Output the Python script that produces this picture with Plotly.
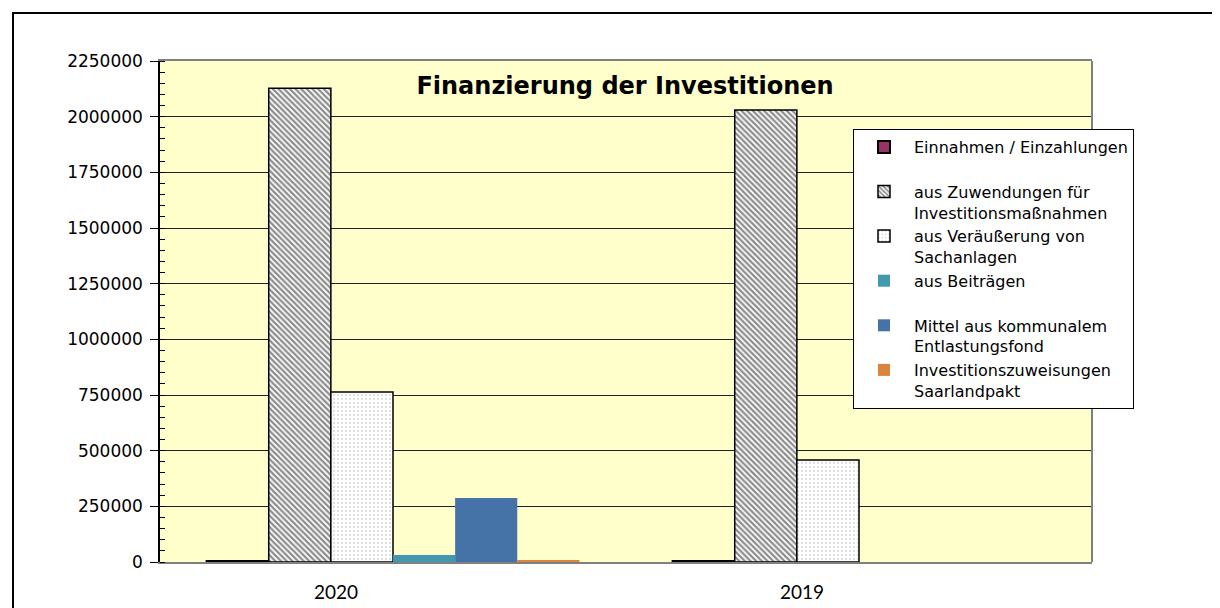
import plotly.graph_objects as go

categories = ["2020", "2019"]
series_names = [
    "Einnahmen / Einzahlungen<br> ",
    "aus Zuwendungen für<br>Investitionsmaßnahmen",
    "aus Veräußerung von<br>Sachanlagen",
    "aus Beiträgen<br> ",
    "Mittel aus kommunalem<br>Entlastungsfond",
    "Investitionszuweisungen<br>Saarlandpakt",
]
einnahmen = [4000, 4000]
zuwendungen = [2128000, 2030000]
veraeusserung = [763000, 458000]
beitraege = [31000, 0]
mittel = [287000, 0]
saarlandpakt = [8000, 0]
y_ticks = [0, 250000, 500000, 750000, 1000000, 1250000, 1500000, 1750000, 2000000, 2250000]

values = [einnahmen, zuwendungen, veraeusserung, beitraege, mittel, saarlandpakt]

styles = [
    dict(color="#993366", line=dict(color="black", width=2)),
    dict(color="white", line=dict(color="black", width=1.5),
         pattern=dict(shape="\\", fgcolor="#1a1a1a", bgcolor="white", size=4, solidity=0.55)),
    dict(color="white", line=dict(color="black", width=1.5),
         pattern=dict(shape=".", fgcolor="#bbbbbb", bgcolor="white", size=4, solidity=0.25)),
    dict(color="#4198AF", line=dict(width=0)),
    dict(color="#4572A7", line=dict(width=0)),
    dict(color="#DB843D", line=dict(width=0)),
]

fig = go.Figure()
for i, (name, vals, st) in enumerate(zip(series_names, values, styles)):
    fig.add_trace(go.Bar(x=categories, y=vals, name=name, marker=st,
                         legendgroup=f"g{i}"))

OFF = 8  # page body margin
W, H = 1220 - OFF, 608 - OFF
L, R, T, B = 160 - OFF, 1092 - OFF, 61 - OFF, 562 - OFF

def px_x(p):  # page pixel -> paper x
    return (p - OFF - L) / (R - L)

def px_y(p):  # page pixel -> paper y
    return (B - (p - OFF)) / (B - T)

fig.update_layout(
    width=W, height=H,
    margin=dict(l=L, r=W - R, t=T, b=H - B),
    paper_bgcolor="white",
    plot_bgcolor="#FFFFCC",
    barmode="group",
    bargap=0.2,
    bargroupgap=0,
    font=dict(family="DejaVu Sans, sans-serif", color="black"),
    title=dict(text="<b>Finanzierung der Investitionen</b>",
               font=dict(family="DejaVu Sans, sans-serif", size=24, color="black"),
               x=px_x(625), xref="paper", xanchor="center",
               y=px_y(86), yref="paper", yanchor="middle"),
    showlegend=True,
    legend=dict(x=px_x(853), y=px_y(129), xanchor="left", yanchor="top",
                bgcolor="white", bordercolor="black", borderwidth=1,
                font=dict(family="DejaVu Sans, sans-serif", size=16),
                valign="top", tracegroupgap=4, traceorder="normal",
                itemwidth=50),
)

fig.update_xaxes(type="category", showgrid=False, showline=True, linecolor="#808080",
                 linewidth=2, mirror=True, ticks="", ticklabelshift=-57,
                 ticklabelstandoff=12, automargin=False,
                 tickfont=dict(family="Lato, sans-serif", size=19))
fig.update_yaxes(range=[0, 2250000], tickvals=y_ticks,
                 ticktext=[str(v) for v in y_ticks],
                 showgrid=True, gridcolor="#222222", gridwidth=1,
                 showline=True, linecolor="black", linewidth=1.5,
                 ticks="outside", ticklen=8, tickcolor="black",
                 minor=dict(dtick=50000, ticks="inside", ticklen=5, tickcolor="black", showgrid=False),
                 zeroline=False, automargin=False, ticklabelstandoff=4,
                 tickfont=dict(family="DejaVu Sans, sans-serif", size=17))

# right border of plot area
fig.add_shape(type="line", xref="paper", yref="paper", x0=1, x1=1, y0=0, y1=1,
              line=dict(color="#808080", width=2))
# outer chart border
fig.add_shape(type="rect", xref="paper", yref="paper",
              x0=px_x(13), x1=px_x(1240), y0=px_y(640), y1=px_y(13),
              line=dict(color="black", width=2), layer="below")

fig.write_html("out.html")
